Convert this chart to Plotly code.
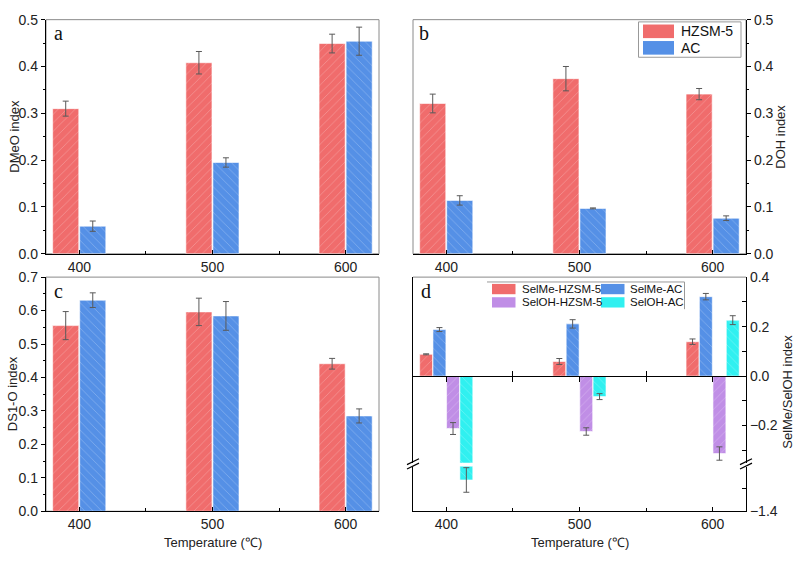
import plotly.graph_objects as go

# ---------------- data ----------------
temps = [400, 500, 600]
tick_temps = [400, 500, 600]

dmeo_hzsm = [0.310, 0.408, 0.449]
dmeo_hzsm_err = [0.016, 0.024, 0.020]
dmeo_ac = [0.059, 0.195, 0.454]
dmeo_ac_err = [0.011, 0.010, 0.030]

doh_hzsm = [0.321, 0.374, 0.341]
doh_hzsm_err = [0.020, 0.026, 0.012]
doh_ac = [0.114, 0.097, 0.076]
doh_ac_err = [0.010, 0.001, 0.005]

ds1o_hzsm = [0.555, 0.596, 0.441]
ds1o_hzsm_err = [0.042, 0.041, 0.016]
ds1o_ac = [0.631, 0.584, 0.285]
ds1o_ac_err = [0.022, 0.043, 0.021]

selme_hzsm = [0.088, 0.059, 0.139]
selme_hzsm_err = [0.002, 0.012, 0.011]
selme_ac = [0.188, 0.211, 0.321]
selme_ac_err = [0.008, 0.017, 0.013]
seloh_hzsm = [-0.212, -0.224, -0.313]
seloh_hzsm_err = [0.024, 0.015, 0.027]
seloh_ac = [-1.26, -0.083, 0.226]
seloh_ac_err = [0.055, 0.012, 0.018]

legend_ab = ["HZSM-5", "AC"]
legend_d = ["SelMe-HZSM-5", "SelMe-AC", "SelOH-HZSM-5", "SelOH-AC"]

# ---------------- styles ----------------
W, H = 799, 562
RED = "#F06C6C"
BLUE = "#5590E6"
PURPLE = "#C08EE6"
CYAN = "#30F0F0"
FRAME = "#8a8a8a"
FONT = "Liberation Sans"


def px(x):
    return x / W


def py(y):
    return 1 - y / H


fig = go.Figure()


def add_bar(x, y, err, color, shape, xa, ya, offset, width, name=None):
    fig.add_trace(go.Bar(
        x=x, y=y, xaxis=xa, yaxis=ya, offset=offset, width=width,
        name=name, showlegend=False,
        marker=dict(color=color,
                    line=dict(color="rgba(255,255,255,0.75)", width=0.8),
                    pattern=dict(shape=shape, fgcolor="white", fgopacity=0.3,
                                 size=6, solidity=0.12)),
        error_y=dict(type="data", array=err, visible=True,
                     color="#5a5a5a", thickness=1, width=3),
        hoverinfo="skip",
    ))


# panel a
add_bar(temps, dmeo_hzsm, dmeo_hzsm_err, RED, "/", "x", "y", -20, 19.6)
add_bar(temps, dmeo_ac, dmeo_ac_err, BLUE, "\\", "x", "y", 0.3, 19.6)
# panel b
add_bar(temps, doh_hzsm, doh_hzsm_err, RED, "/", "x2", "y2", -20, 19.6)
add_bar(temps, doh_ac, doh_ac_err, BLUE, "\\", "x2", "y2", 0.3, 19.6)
# panel c
add_bar(temps, ds1o_hzsm, ds1o_hzsm_err, RED, "/", "x3", "y3", -20, 19.6)
add_bar(temps, ds1o_ac, ds1o_ac_err, BLUE, "\\", "x3", "y3", 0.3, 19.6)
# panel d (upper and lower parts of broken axis)
for ya in ["y4", "y5"]:
    add_bar(temps, selme_hzsm, selme_hzsm_err, RED, "/", "x4", ya, -20, 9.7)
    add_bar(temps, selme_ac, selme_ac_err, BLUE, "\\", "x4", ya, -10, 9.7)
    add_bar(temps, seloh_hzsm, seloh_hzsm_err, PURPLE, "/", "x4", ya, 0.2, 9.7)
    add_bar(temps, seloh_ac, seloh_ac_err, CYAN, "\\", "x4", ya, 10.2, 9.7)

# dummy traces for zero-line axes of panel d
for xa in ["x5", "x6"]:
    fig.add_trace(go.Scatter(x=[500], y=[0], xaxis=xa, yaxis="y4", mode="markers",
                             marker=dict(opacity=0), showlegend=False, hoverinfo="skip"))

# ---------------- layout ----------------
XL = (46, 379)
XR = (413, 746)
YT = (12, 253)
YB = (277, 518)
YD_UP = (277, 468)
YD_LO = (472, 518)

tickfont = dict(family=FONT, size=14, color="#222")


def xdom(r):
    return [px(r[0]), px(r[1])]


def ydom(r):
    return [py(r[1]), py(r[0])]


def xaxis(dom, anchor):
    return dict(domain=xdom(dom), anchor=anchor, range=[375, 625],
                tickvals=tick_temps, ticks="inside", ticklen=4, tickwidth=1,
                tickcolor="black", showline=True, linecolor="black", linewidth=1.3,
                showgrid=False, zeroline=False, tickfont=tickfont,
                minor=dict(tickvals=[450, 550], ticks="inside", ticklen=3,
                           tickcolor="black"))


def yaxis(dom, anchor, rng, dtick, side="left", ticks="outside"):
    return dict(domain=ydom(dom), anchor=anchor, range=rng, dtick=dtick, tick0=0,
                side=side, ticks=ticks, ticklen=4, tickwidth=1, tickcolor="black",
                showline=True, linecolor="black", linewidth=1.3, showgrid=False,
                zeroline=False, tickfont=tickfont, tickformat=".1f",
                minor=dict(dtick=dtick / 2, tick0=0, ticks=ticks, ticklen=2,
                           tickcolor="black"))


layout = dict(
    width=W, height=H, margin=dict(l=0, r=0, t=0, b=0),
    paper_bgcolor="white", plot_bgcolor="white", barmode="overlay",
    showlegend=False, font=dict(family=FONT, color="#222"),
    xaxis=xaxis(XL, "y"),
    yaxis=yaxis(YT, "x", [0, 0.5], 0.1),
    xaxis2=xaxis(XR, "y2"),
    yaxis2=yaxis(YT, "x2", [0, 0.5], 0.1, side="right"),
    xaxis3=xaxis(XL, "y3"),
    yaxis3=yaxis(YB, "x3", [0, 0.7], 0.1),
    xaxis4=xaxis(XR, "y5"),
)
y4 = dict(domain=ydom(YD_UP), anchor="x4", range=[-0.35, 0.4], side="right",
          tickvals=[-0.2, 0, 0.2, 0.4], ticktext=["\u22120.2", "0.0", "0.2", "0.4"],
          ticks="inside", ticklen=4, tickcolor="black", showline=True, mirror=True,
          linecolor="black", linewidth=1.3, showgrid=False, zeroline=False,
          tickfont=tickfont,
          minor=dict(tickvals=[-0.3, -0.1, 0.1, 0.3], ticks="inside", ticklen=4,
                     tickcolor="black"))
y5 = dict(domain=ydom(YD_LO), anchor="x4", range=[-1.4, -1.2], side="right",
          tickvals=[-1.4], ticktext=["\u22121.4"],
          ticks="inside", ticklen=4, tickcolor="black", showline=True, mirror=True,
          linecolor="black", linewidth=1.3, showgrid=False, zeroline=False,
          tickfont=tickfont,
          minor=dict(tickvals=[-1.3], ticks="inside", ticklen=4, tickcolor="black"))
layout["yaxis4"] = y4
layout["yaxis5"] = y5

# zero-line axis in panel d
zero_frac = (0 - (-0.35)) / 0.75
zero_pos = py(YD_UP[1]) + zero_frac * (py(YD_UP[0]) - py(YD_UP[1]))
layout["xaxis5"] = dict(overlaying="x4", anchor="free", position=zero_pos,
                        range=[375, 625], tickvals=[400, 450, 500, 550, 600],
                        ticks="outside", ticklen=5, tickcolor="black",
                        showticklabels=False, showline=True, linecolor="black",
                        linewidth=1.3, showgrid=False, zeroline=False)
layout["xaxis6"] = dict(overlaying="x4", anchor="free", position=zero_pos,
                        range=[375, 625], tickvals=[450, 550],
                        ticks="inside", ticklen=5, tickcolor="black",
                        showticklabels=False, showline=False, showgrid=False,
                        zeroline=False)

fig.update_layout(**layout)

shapes = []
# gray frames
for (xr, yr) in [(XL, YT), (XR, YT), (XL, YB)]:
    shapes.append(dict(type="rect", xref="paper", yref="paper",
                       x0=px(xr[0]), x1=px(xr[1]), y0=py(yr[1]), y1=py(yr[0]),
                       line=dict(color=FRAME, width=1), layer="below"))
shapes.append(dict(type="line", xref="paper", yref="paper",
                   x0=px(XR[0]), x1=px(XR[1]), y0=py(YD_UP[0]), y1=py(YD_UP[0]),
                   line=dict(color=FRAME, width=1)))
# break marks
for bx in [XR[0], XR[1]]:
    for dy in [0, 4.5]:
        shapes.append(dict(type="line", xref="paper", yref="paper",
                           x0=px(bx - 6), y0=py(470 + dy), x1=px(bx + 6), y1=py(464 + dy),
                           line=dict(color="black", width=1.2)))

# legend b
shapes.append(dict(type="rect", xref="paper", yref="paper",
                   x0=px(638.5), x1=px(741), y0=py(50.7), y1=py(14.3),
                   line=dict(color="#999", width=1), fillcolor="white"))
ann = []
for i, (lab, col) in enumerate(zip(legend_ab, [RED, BLUE])):
    y0 = 17 + i * 17
    shapes.append(dict(type="rect", xref="paper", yref="paper",
                       x0=px(643), x1=px(674), y0=py(y0 + 14), y1=py(y0),
                       line=dict(width=0), fillcolor=col))
    ann.append(dict(x=px(679), y=py(y0 + 7), xref="paper", yref="paper",
                    text=lab, showarrow=False, xanchor="left", yanchor="middle",
                    font=dict(family=FONT, size=14, color="#111")))

# legend d
shapes.append(dict(type="line", xref="paper", yref="paper",
                   x0=px(487), x1=px(684.5), y0=py(282), y1=py(282),
                   line=dict(color="#999", width=1)))
shapes.append(dict(type="line", xref="paper", yref="paper",
                   x0=px(684.5), x1=px(684.5), y0=py(282), y1=py(310),
                   line=dict(color="#999", width=1)))
cols_d = [RED, BLUE, PURPLE, CYAN]
for i, (lab, col) in enumerate(zip(legend_d, cols_d)):
    c, r = i % 2, i // 2
    sx = 492 if c == 0 else 601
    tx = 520 if c == 0 else 628
    yc = 289.3 + r * 13.7
    shapes.append(dict(type="rect", xref="paper", yref="paper",
                       x0=px(sx), x1=px(sx + 23.5), y0=py(yc + 5.3), y1=py(yc - 5.3),
                       line=dict(width=0), fillcolor=col))
    ann.append(dict(x=px(tx), y=py(yc), xref="paper", yref="paper",
                    text=lab, showarrow=False, xanchor="left", yanchor="middle",
                    font=dict(family=FONT, size=11.5, color="#111")))

# panel letters
for lab, (x, y) in zip(["a", "b", "c", "d"], [(52, 26), (417, 26), (52, 291), (419, 291)]):
    ann.append(dict(x=px(x), y=py(y), xref="paper", yref="paper", text=lab,
                    showarrow=False, xanchor="left", yanchor="middle",
                    font=dict(family="Liberation Serif", size=20, color="#111")))

# axis titles
titles = [("DMeO index", 15, 132.5, -90), ("DOH index", 781, 132.5, -90),
          ("DS1-O index", 12, 397.5, -90), ("SelMe/SelOH index", 788, 395, -90),
          ("Temperature (\u2103)", 212.5, 550, 0), ("Temperature (\u2103)", 580, 550, 0)]
for t, x, y, ang in titles:
    ann.append(dict(x=px(x), y=py(y), xref="paper", yref="paper", text=t,
                    showarrow=False, xanchor="center", yanchor="middle", textangle=ang,
                    font=dict(family=FONT, size=13, color="#222")))

fig.update_layout(shapes=shapes, annotations=ann)
fig.write_html("out.html")
